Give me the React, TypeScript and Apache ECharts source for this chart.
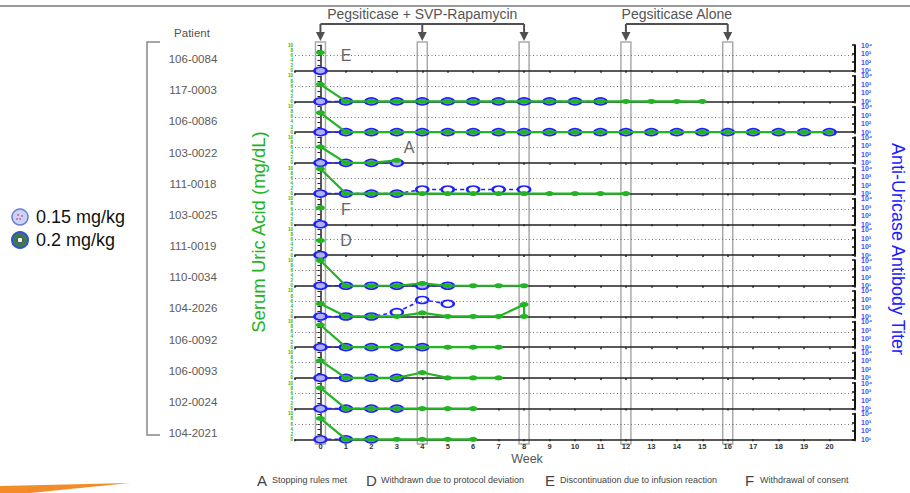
import React, { useEffect, useRef } from "react";
import * as echarts from "echarts";

// ---------------- data ----------------
const patients = [
  "106-0084", "117-0003", "106-0086", "103-0022", "111-0018", "103-0025", "111-0019",
  "110-0034", "104-2026", "106-0092", "106-0093", "102-0024", "104-2021",
];

// serum uric acid (mg/dL): [week, value]
const ua_106_0084 = [[0, 7.1]];
const ua_117_0003 = [[0, 6.7], [1, 0], [2, 0], [3, 0], [4, 0], [5, 0], [6, 0], [7, 0], [8, 0], [9, 0], [10, 0], [11, 0], [12, 0], [13, 0], [14, 0], [15, 0]];
const ua_106_0086 = [[0, 7.6], [1, 0], [2, 0], [3, 0], [4, 0], [5, 0], [6, 0], [7, 0], [8, 0], [9, 0], [10, 0], [11, 0], [12, 0], [13, 0], [14, 0], [15, 0], [16, 0], [17, 0], [18, 0], [19, 0], [20, 0]];
const ua_103_0022 = [[0, 6.3], [1, 0], [2, 0], [3, 1.0]];
const ua_111_0018 = [[0, 9.7], [1, 0], [2, 0], [3, 0], [4, 0], [5, 0], [6, 0], [7, 0], [8, 0], [9, 0], [10, 0], [11, 0], [12, 0]];
const ua_103_0025 = [[0, 6.5]];
const ua_111_0019 = [[0, 5.7]];
const ua_110_0034 = [[0, 9.9], [1, 0], [2, 0], [3, 0], [4, 0.9], [5, 0], [6, 0], [7, 0], [8, 0]];
const ua_104_2026 = [[0, 5.0], [1, 0], [2, 0], [3, 0], [4, 1.4], [5, 0], [6, 0], [7, 0], [8, 4.7], [8, 0]];
const ua_106_0092 = [[0, 8.7], [1, 0], [2, 0], [3, 0], [4, 0], [5, 0], [6, 0], [7, 0]];
const ua_106_0093 = [[0, 6.8], [1, 0], [2, 0], [3, 0], [4, 2.1], [5, 0], [6, 0], [7, 0]];
const ua_102_0024 = [[0, 8.1], [1, 0], [2, 0], [3, 0], [4, 0], [5, 0], [6, 0]];
const ua_104_2021 = [[0, 8.2], [1, 0], [2, 0], [3, 0], [4, 0], [5, 0], [6, 0]];

// anti-uricase antibody titer: [week, titer]
const ab_106_0084 = [[0, 10]];
const ab_117_0003 = [[0, 10], [1, 10], [2, 10], [3, 10], [4, 10], [5, 10], [6, 10], [7, 10], [8, 10], [9, 10], [10, 10], [11, 10]];
const ab_106_0086 = [[0, 10], [1, 10], [2, 10], [3, 10], [4, 10], [5, 10], [6, 10], [7, 10], [8, 10], [9, 10], [10, 10], [11, 10], [12, 10], [13, 10], [14, 10], [15, 10], [16, 10], [17, 10], [18, 10], [19, 10], [20, 10]];
const ab_103_0022 = [[0, 10], [1, 10], [2, 10], [3, 10]];
const ab_111_0018 = [[0, 10], [1, 10], [2, 10], [3, 10], [4, 30], [5, 30], [6, 30], [7, 30], [8, 30]];
const ab_103_0025 = [[0, 10]];
const ab_111_0019 = [[0, 10]];
const ab_110_0034 = [[0, 10], [1, 10], [2, 10], [3, 10], [4, 10], [5, 10]];
const ab_104_2026 = [[0, 10], [1, 10], [2, 10], [3, 32], [4, 870], [5, 310]];
const ab_106_0092 = [[0, 10], [1, 10], [2, 10], [3, 10], [4, 10]];
const ab_106_0093 = [[0, 10], [1, 10], [2, 10], [3, 10]];
const ab_102_0024 = [[0, 10], [1, 10], [2, 10], [3, 10]];
const ab_104_2021 = [[0, 10], [1, 10], [2, 10]];

const uricAcid = [ua_106_0084, ua_117_0003, ua_106_0086, ua_103_0022, ua_111_0018, ua_103_0025, ua_111_0019, ua_110_0034, ua_104_2026, ua_106_0092, ua_106_0093, ua_102_0024, ua_104_2021];
const antibody = [ab_106_0084, ab_117_0003, ab_106_0086, ab_103_0022, ab_111_0018, ab_103_0025, ab_111_0019, ab_110_0034, ab_104_2026, ab_106_0092, ab_106_0093, ab_102_0024, ab_104_2021];

const uaThreshold = 6;
const titerFloor = 10;
const dosingWeeksCombo = [0, 4, 8];
const dosingWeeksAlone = [12, 16];
const annotations = [
  { letter: "E", row: 0 },
  { letter: "A", row: 3 },
  { letter: "F", row: 5 },
  { letter: "D", row: 6 },
];
const footnotes = [
  { letter: "A", text: "Stopping rules met" },
  { letter: "D", text: "Withdrawn due to protocol deviation" },
  { letter: "E", text: "Discontinuation due to infusion reaction" },
  { letter: "F", text: "Withdrawal of consent" },
];
const doseLabels = ["0.15 mg/kg", "0.2 mg/kg"];

// ---------------- layout ----------------
const W = 910;
const H = 493;
const gridLeft = 295;
const gridRight = 55;
const firstBaseline = 70.7;
const rowStep = 30.72;
const panelH = 25.5;
const xMin = -1;
const xMax = 21;
const FONT = "'Liberation Sans', Arial, sans-serif";
const GREEN = "#22b422";
const BLUE = "#2020ff";
const GRAYTXT = "#555";

const xPx = (w: number) => gridLeft + ((w - xMin) * (W - gridLeft - gridRight)) / (xMax - xMin);
const supers: Record<string, string> = { "0": "⁰", "1": "¹", "2": "²", "3": "³", "4": "⁴", "5": "⁵" };

function buildOption() {
  const n = patients.length;
  const grid: any[] = [];
  const xAxis: any[] = [];
  const yAxis: any[] = [];
  const series: any[] = [];
  for (let i = 0; i < n; i++) {
    const base = firstBaseline + rowStep * i;
    grid.push({ left: gridLeft, right: gridRight, top: base - panelH, height: panelH });
    const last = i === n - 1;
    xAxis.push({
      gridIndex: i,
      type: "value",
      min: xMin,
      max: xMax,
      interval: 1,
      axisLine: { show: true, onZero: false, lineStyle: { color: "#222", width: 1.5 } },
      axisTick: { show: true, length: 2, lineStyle: { color: "#222", width: 1.5 } },
      splitLine: { show: false },
      axisLabel: {
        show: last,
        fontSize: 7.5,
        fontWeight: "bold",
        color: "#333",
        margin: 3,
        fontFamily: FONT,
        formatter: (v: number) => (v < 0 || v > 20 ? "" : String(v)),
      },
    });
    yAxis.push({
      gridIndex: i,
      type: "value",
      min: 0,
      max: 10,
      interval: 2,
      axisLine: { show: true, lineStyle: { color: "#222", width: 1.5 } },
      axisTick: { show: true, length: 3, lineStyle: { color: "#222" } },
      splitLine: { show: false },
      axisLabel: { fontSize: 4.5, fontWeight: "bold", color: GREEN, margin: 2, fontFamily: FONT, hideOverlap: false, showMinLabel: true, showMaxLabel: true },
    });
    yAxis.push({
      gridIndex: i,
      type: "log",
      position: "right",
      min: 10,
      max: 10000,
      logBase: 10,
      axisLine: { show: true, lineStyle: { color: "#111", width: 2 } },
      axisTick: { show: true, inside: true, length: 3, lineStyle: { color: "#111", width: 1.5 } },
      minorTick: { show: false },
      splitLine: { show: false },
      axisLabel: {
        fontSize: 7,
        fontWeight: "bold",
        color: "#4a4aff",
        margin: 6,
        fontFamily: FONT,
        formatter: (v: number) => "10" + (supers[String(Math.round(Math.log10(v)))] || ""),
      },
    });
    series.push({
      type: "line",
      name: "titer-" + patients[i],
      xAxisIndex: i,
      yAxisIndex: i * 2 + 1,
      data: antibody[i].map((d) => ({
        value: d,
        itemStyle: d[1] > titerFloor ? { color: "#ffffff" } : undefined,
      })),
      symbol: "circle",
      symbolSize: [12, 7],
      clip: false,
      z: 3,
      lineStyle: { color: BLUE, width: 1.5, type: [4, 3] },
      itemStyle: { color: "#aeb0f2", borderColor: BLUE, borderWidth: 2 },
    });
    series.push({
      type: "line",
      name: "ua-" + patients[i],
      xAxisIndex: i,
      yAxisIndex: i * 2,
      data: uricAcid[i],
      symbol: "circle",
      symbolSize: [9, 5],
      clip: false,
      z: 4,
      lineStyle: { color: GREEN, width: 2.2 },
      itemStyle: { color: GREEN },
      markLine: {
        silent: true,
        symbol: "none",
        label: { show: false },
        lineStyle: { color: "#777", type: [1, 2.5], width: 1 },
        data: [{ yAxis: uaThreshold }],
      },
    });
  }

  const graphic: any[] = [];
  graphic.push({ type: "line", shape: { x1: 0, y1: 6, x2: W, y2: 6 }, style: { stroke: "#9a9a9a", lineWidth: 2 } });
  graphic.push({ type: "polygon", shape: { points: [[0, 486], [130, 483], [30, 493], [0, 493]] }, style: { fill: "#f28c28" } });

  const allWeeks = dosingWeeksCombo.concat(dosingWeeksAlone);
  allWeeks.forEach((w) => {
    const cx = xPx(w);
    graphic.push({ type: "rect", z: -10, shape: { x: cx - 5, y: 42, width: 10, height: 402 }, style: { fill: "none", stroke: "#aaa", lineWidth: 1.5 } });
    graphic.push({ type: "line", shape: { x1: cx, y1: 24, x2: cx, y2: 33 }, style: { stroke: "#505050", lineWidth: 2 } });
    graphic.push({ type: "polygon", shape: { points: [[cx - 4.5, 32], [cx + 4.5, 32], [cx, 41]] }, style: { fill: "#505050" } });
  });
  const brackets = [
    { weeks: dosingWeeksCombo, label: "Pegsiticase + SVP-Rapamycin" },
    { weeks: dosingWeeksAlone, label: "Pegsiticase Alone" },
  ];
  brackets.forEach((b) => {
    const x1 = xPx(b.weeks[0]);
    const x2 = xPx(b.weeks[b.weeks.length - 1]);
    graphic.push({ type: "line", shape: { x1, y1: 24, x2, y2: 24 }, style: { stroke: "#505050", lineWidth: 2 } });
    graphic.push({
      type: "text", x: (x1 + x2) / 2, y: 14,
      style: { text: b.label, fill: GRAYTXT, fontSize: 14, fontFamily: FONT, textAlign: "center", textVerticalAlign: "middle", align: "center", verticalAlign: "middle" },
    });
  });

  graphic.push({
    type: "text", x: 192, y: 33,
    style: { text: "Patient", fill: GRAYTXT, fontSize: 11.5, fontFamily: FONT, textAlign: "center", textVerticalAlign: "middle", align: "center", verticalAlign: "middle" },
  });
  patients.forEach((p, i) => {
    graphic.push({
      type: "text", x: 193, y: 59 + i * 31.17,
      style: { text: p, fill: "#5a5a5a", fontSize: 11.5, fontFamily: FONT, textAlign: "center", textVerticalAlign: "middle", align: "center", verticalAlign: "middle" },
    });
  });
  graphic.push({ type: "polyline", shape: { points: [[160, 42], [147, 42], [147, 435], [160, 435]] }, style: { fill: "none", stroke: "#888", lineWidth: 1.5 } });

  graphic.push({ type: "circle", shape: { cx: 20, cy: 217, r: 8 }, style: { fill: "#c9d3f5", stroke: "#6b7bd9", lineWidth: 1.5 } });
  [[-2, -2], [2, -1], [0, 2], [-3, 2]].forEach((d) => {
    graphic.push({ type: "circle", shape: { cx: 20 + d[0], cy: 217 + d[1], r: 0.9 }, style: { fill: "#e0508a" } });
  });
  graphic.push({ type: "circle", shape: { cx: 20, cy: 240, r: 8 }, style: { fill: "#3f7a4f", stroke: "#3355cc", lineWidth: 2 } });
  graphic.push({ type: "circle", shape: { cx: 20, cy: 240, r: 2.8 }, style: { fill: "#f4f4f4", stroke: "#223", lineWidth: 0.8 } });
  doseLabels.forEach((t, i) => {
    graphic.push({
      type: "text", x: 36, y: 217 + i * 23,
      style: { text: t, fill: "#111", fontSize: 18, fontFamily: FONT, textAlign: "left", textVerticalAlign: "middle", align: "left", verticalAlign: "middle" },
    });
  });

  graphic.push({
    type: "text", x: 258, y: 232, rotation: Math.PI / 2,
    style: { text: "Serum Uric Acid (mg/dL)", fill: GREEN, fontSize: 18.5, fontFamily: FONT, textAlign: "center", textVerticalAlign: "middle", align: "center", verticalAlign: "middle" },
  });
  graphic.push({
    type: "text", x: 898, y: 249, rotation: -Math.PI / 2,
    style: { text: "Anti-Uricase Antibody Titer", fill: BLUE, fontSize: 18, fontFamily: FONT, textAlign: "center", textVerticalAlign: "middle", align: "center", verticalAlign: "middle" },
  });
  graphic.push({
    type: "text", x: 527, y: 459,
    style: { text: "Week", fill: GRAYTXT, fontSize: 12.5, fontFamily: FONT, textAlign: "center", textVerticalAlign: "middle", align: "center", verticalAlign: "middle" },
  });

  const annX = [346, 409, 346, 346];
  annotations.forEach((a, k) => {
    const base = firstBaseline + rowStep * a.row;
    graphic.push({
      type: "text", x: annX[k], y: base - 15,
      style: { text: a.letter, fill: "#666", fontSize: 16, fontFamily: FONT, textAlign: "center", textVerticalAlign: "middle", align: "center", verticalAlign: "middle" },
    });
  });

  const footX = [257, 366, 545, 745];
  footnotes.forEach((f, k) => {
    graphic.push({
      type: "text", x: footX[k], y: 480,
      style: { text: f.letter, fill: "#444", fontSize: 15, fontFamily: FONT, textAlign: "left", textVerticalAlign: "middle", align: "left", verticalAlign: "middle" },
    });
    graphic.push({
      type: "text", x: footX[k] + 15, y: 480,
      style: { text: f.text, fill: "#444", fontSize: 9, fontFamily: FONT, textAlign: "left", textVerticalAlign: "middle", align: "left", verticalAlign: "middle" },
    });
  });

  return {
    animation: false,
    backgroundColor: "#ffffff",
    grid,
    xAxis,
    yAxis,
    series,
    graphic,
  };
}

export default function App() {
  const ref = useRef<HTMLDivElement>(null);
  useEffect(() => {
    if (!ref.current) return;
    const chart = echarts.init(ref.current, undefined, { renderer: "svg", width: W, height: H });
    chart.setOption(buildOption() as any);
    return () => chart.dispose();
  }, []);
  return <div ref={ref} style={{ position: "fixed", left: 0, top: 0, width: W, height: H }} />;
}
